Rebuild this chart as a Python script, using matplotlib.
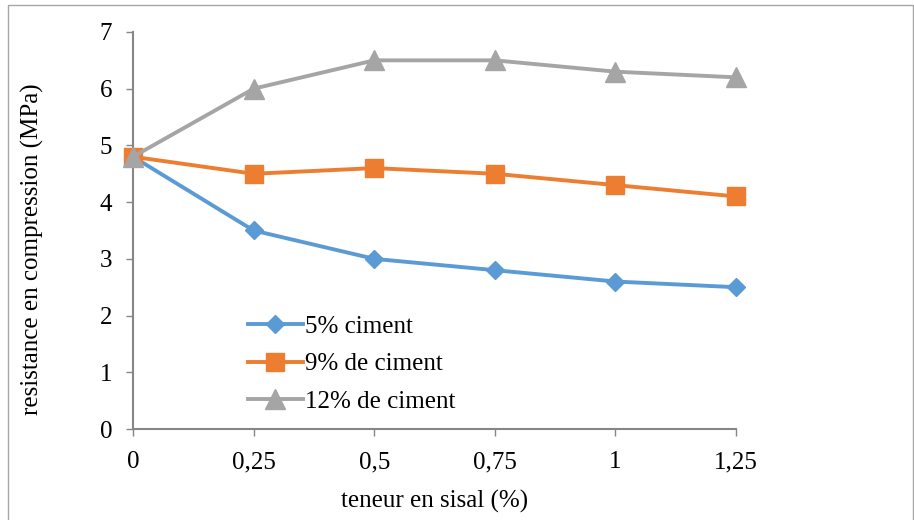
import matplotlib
matplotlib.use("Agg")
from matplotlib import pyplot as plt
from matplotlib.patches import Rectangle

# data
teneur = [0, 0.25, 0.5, 0.75, 1, 1.25]
tick_labels = ['0', '0,25', '0,5', '0,75', '1', '1,25']
ciment_5 = [4.8, 3.5, 3.0, 2.8, 2.6, 2.5]
ciment_9 = [4.8, 4.5, 4.6, 4.5, 4.3, 4.1]
ciment_12 = [4.8, 6.0, 6.5, 6.5, 6.3, 6.2]

plt.rcParams['font.family'] = ['Liberation Serif', 'DejaVu Serif']

fig = plt.figure(figsize=(9.14, 5.2), dpi=100)
ax = fig.add_axes([0.1455, 0.175, 0.6598, 0.7635])

# outer frame of the chart
fig.patches.append(Rectangle((0.009, -0.01), 0.99, 1.0, transform=fig.transFigure,
                             fill=False, edgecolor='#a6a6a6', linewidth=1))

ax.plot(teneur, ciment_5, color='#5b9bd5', lw=2.8, marker='D', ms=9,
        label='5% ciment', clip_on=False, zorder=3)
ax.plot(teneur, ciment_9, color='#ed7d31', lw=2.8, marker='s', ms=13,
        label='9% de ciment', clip_on=False, zorder=3)
ax.plot(teneur, ciment_12, color='#a5a5a5', lw=2.8, marker='^', ms=14,
        label='12% de ciment', clip_on=False, zorder=4)

ax.set_xlim(0, 1.25)
ax.set_ylim(0, 7)
ax.set_xticks(teneur)
ax.set_xticklabels(tick_labels)
ax.set_yticks(range(8))

for s in ['top', 'right']:
    ax.spines[s].set_visible(False)
for s in ['left', 'bottom']:
    ax.spines[s].set_color('#868686')
    ax.spines[s].set_linewidth(1.5)
ax.tick_params(direction='out', length=5, width=1, color='#868686',
               labelsize=18)
ax.tick_params(axis='y', pad=10)
ax.tick_params(axis='x', pad=11)

ax.set_xlabel('teneur en sisal (%)', fontsize=18, labelpad=12)
ax.set_ylabel('resistance en compression (MPa)', fontsize=18)
ax.yaxis.set_label_coords(-0.148, 0.452)

ax.legend(loc='lower left', bbox_to_anchor=(0.153, -0.016), frameon=False,
          fontsize=18, handlelength=2.2, handletextpad=0.1, labelspacing=0.6)

plt.savefig('out.png', dpi=100)
